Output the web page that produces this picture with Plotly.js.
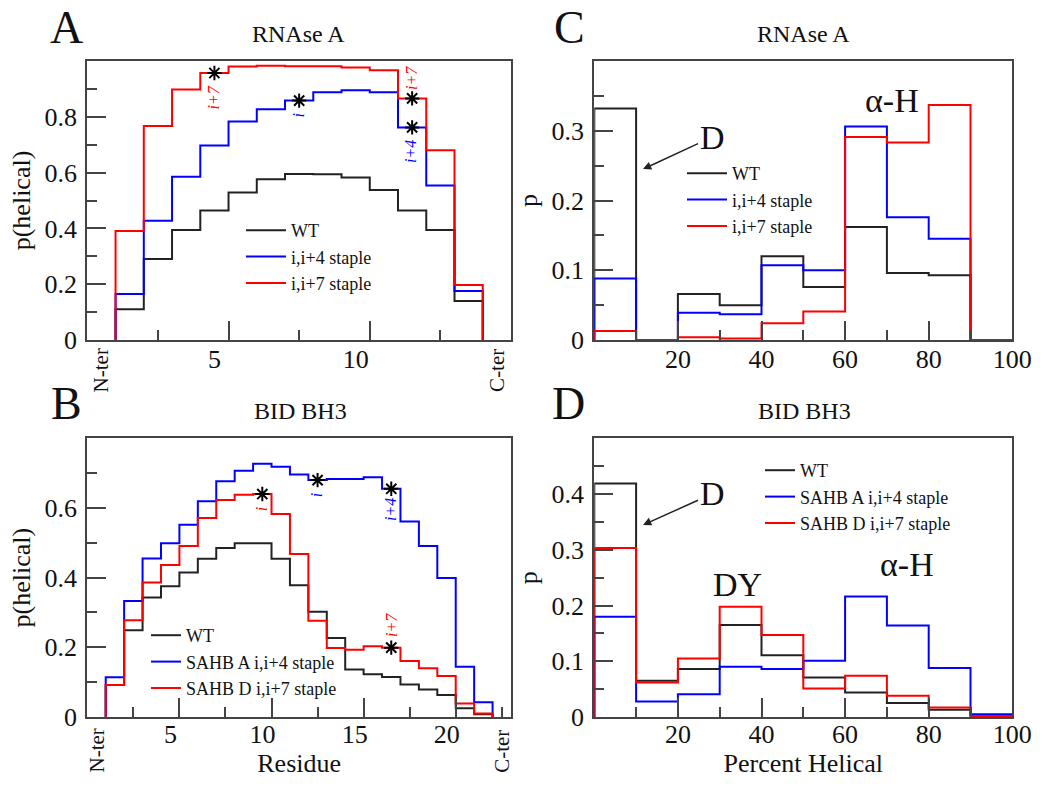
<!DOCTYPE html>
<html>
<head>
<meta charset="utf-8">
<script src="https://cdn.plot.ly/plotly-3.0.1.min.js"></script>
<style>html,body{margin:0;padding:0;background:#fff}#chart{width:1050px;height:790px}</style>
</head>
<body>
<div id="chart"></div>
<script>
// ---------- data ----------
const residueA = [2,3,4,5,6,7,8,9,10,11,12,13,14];
const wtA = [0.110,0.290,0.394,0.464,0.529,0.576,0.595,0.594,0.582,0.538,0.464,0.394,0.140];
const i4A = [0.165,0.427,0.585,0.697,0.783,0.827,0.858,0.888,0.895,0.888,0.762,0.554,0.176];
const i7A = [0.391,0.767,0.898,0.957,0.980,0.983,0.981,0.981,0.977,0.967,0.866,0.680,0.197];
const stapleA_i4 = [8,12];
const stapleA_i7 = [5,12];

const residueB = [2,3,4,5,6,7,8,9,10,11,12,13,14,15,16,17,18,19,20,21,22];
const wtB = [0.092,0.249,0.343,0.375,0.415,0.454,0.485,0.499,0.499,0.454,0.378,0.302,0.227,0.136,0.123,0.115,0.093,0.079,0.063,0.025,0.008];
const i4B = [0.114,0.333,0.455,0.499,0.552,0.619,0.677,0.707,0.727,0.718,0.696,0.680,0.683,0.683,0.688,0.655,0.561,0.491,0.399,0.144,0.042];
const i7B = [0.092,0.278,0.386,0.436,0.491,0.571,0.623,0.638,0.640,0.583,0.468,0.276,0.198,0.193,0.203,0.199,0.161,0.140,0.118,0.039,0.010];
const stapleB_i4 = [13,17];
const stapleB_i7 = [10,17];

const pctBin = [5,15,25,35,45,55,65,75,85,95];
const wtC = [0.332,0,0.066,0.050,0.120,0.076,0.162,0.096,0.093,0];
const i4C = [0.088,0,0.039,0.037,0.107,0.100,0.306,0.176,0.145,0];
const i7C = [0.013,0,0.004,0.002,0.024,0.041,0.291,0.283,0.337,0];
const wtD = [0.419,0.065,0.086,0.165,0.111,0.071,0.044,0.025,0.013,0.002];
const i4D = [0.180,0.028,0.041,0.090,0.086,0.101,0.216,0.164,0.088,0.005];
const i7D = [0.303,0.062,0.105,0.198,0.147,0.051,0.074,0.038,0.017,0.002];

const namesAC = ['WT','i,i+4 staple','i,i+7 staple'];
const namesBD = ['WT','SAHB A i,i+4 staple','SAHB D i,i+7 staple'];

// ---------- helpers ----------
const SERIF = 'Liberation Serif, Times New Roman, serif';
const COLORS = ['#222222','#0000ff','#ff0000'];
const W = 1050, H = 790;
const px = v => v / W;
const py = v => 1 - v / H;

function steps(centers, vals, w) {
  const x = [centers[0] - w/2], y = [0];
  centers.forEach((c, i) => { x.push(c - w/2); y.push(vals[i]); });
  x.push(centers[centers.length-1] + w/2); y.push(0);
  return {x, y};
}
function stepTrace(centers, vals, w, name, color, xa, ya, leg) {
  const s = steps(centers, vals, w);
  return {x: s.x, y: s.y, type: 'scatter', mode: 'lines', name,
    line: {shape: 'hv', color, width: 2}, xaxis: xa, yaxis: ya, legend: leg};
}
function lookup(centers, vals, pos) { return pos.map(p => vals[centers.indexOf(p)]); }
function starTrace(xs, ys, xa, ya) {
  return {x: xs, y: ys, type: 'scatter', mode: 'markers', showlegend: false, hoverinfo: 'skip',
    marker: {symbol: 'asterisk-open', size: 12, color: '#000', line: {color: '#000', width: 2}},
    xaxis: xa, yaxis: ya};
}

const traces = [];
[[wtA,0],[i4A,1],[i7A,2]].forEach(([v,k]) => traces.push(stepTrace(residueA, v, 1, namesAC[k], COLORS[k], 'x', 'y', 'legend')));
[[wtB,0],[i4B,1],[i7B,2]].forEach(([v,k]) => traces.push(stepTrace(residueB, v, 1, namesBD[k], COLORS[k], 'x2', 'y2', 'legend2')));
[[wtC,0],[i4C,1],[i7C,2]].forEach(([v,k]) => traces.push(stepTrace(pctBin, v, 10, namesAC[k], COLORS[k], 'x3', 'y3', 'legend3')));
[[wtD,0],[i4D,1],[i7D,2]].forEach(([v,k]) => traces.push(stepTrace(pctBin, v, 10, namesBD[k], COLORS[k], 'x4', 'y4', 'legend4')));

traces.push(starTrace(stapleA_i7.concat(stapleA_i4),
  lookup(residueA, i7A, stapleA_i7).concat(lookup(residueA, i4A, stapleA_i4)), 'x', 'y'));
traces.push(starTrace(stapleB_i7.concat(stapleB_i4),
  lookup(residueB, i7B, stapleB_i7).concat(lookup(residueB, i4B, stapleB_i4)), 'x2', 'y2'));

// ---------- axes ----------
const AX = '#444';
function minorT(tick0, dtick) {
  return {tick0, dtick, ticks: 'inside', ticklen: 10, tickwidth: 2, tickcolor: AX, showgrid: false};
}
function baseAxis(extra) {
  return Object.assign({
    showline: true, linecolor: AX, linewidth: 2, mirror: true,
    ticks: 'inside', ticklen: 19, tickwidth: 2, tickcolor: AX,
    showgrid: false, zeroline: false, fixedrange: true,
    tickfont: {family: SERIF, size: 26, color: '#111'}
  }, extra);
}
// tick marks of an axis repeated on the opposite side of the panel
function mirrorOf(ax, over, anchor, side) {
  return {overlaying: over, anchor, side, range: ax.range.slice(),
    showline: false,
    tickmode: 'array', tickvals: ax.tickvals.slice(), ticks: 'inside', ticklen: 19, tickwidth: 2, tickcolor: AX,
    showticklabels: false, showgrid: false, zeroline: false, fixedrange: true,
    minor: Object.assign({}, ax.minor)};
}
const dxL = [px(87.3), px(511)];
const dxR = [px(594.3), px(1012.3)];
const dyT = [py(340), py(61)];
const dyB = [py(717), py(438.3)];
const titleFont = {family: SERIF, size: 26, color: '#111'};

const layout = {
  width: W, height: H,
  margin: {l: 0, r: 0, t: 0, b: 0},
  paper_bgcolor: '#fff', plot_bgcolor: '#fff',
  font: {family: SERIF, color: '#111'},
  showlegend: true
};
layout.xaxis = baseAxis({domain: dxL, anchor: 'y', range: [0.5, 15.5],
  tickmode: 'array', tickvals: [0.5,5.5,10.5,15.5], ticktext: ['','5','10',''], ticklabelshift: -14,
  ticklabelstandoff: -5, minor: minorT(0.5, 2.5)});
layout.yaxis = baseAxis({domain: dyT, anchor: 'x', range: [0, 1],
  tickmode: 'array', tickvals: [0,0.2,0.4,0.6,0.8,1], ticktext: ['0','0.2','0.4','0.6','0.8',''],
  ticklabelstandoff: 3, minor: minorT(0, 0.1),
  title: {text: 'p(helical)', font: titleFont, standoff: 6}});
layout.xaxis2 = baseAxis({domain: dxL, anchor: 'y2', range: [0.5, 23.5],
  tickmode: 'array', tickvals: [0.5,5.5,10.5,15.5,20.5], ticktext: ['','5','10','15','20'], ticklabelshift: -9,
  ticklabelstandoff: -7, minor: minorT(0.5, 2.5),
  title: {text: 'Residue', font: titleFont, standoff: 2}});
layout.yaxis2 = baseAxis({domain: dyB, anchor: 'x2', range: [0, 0.8],
  tickmode: 'array', tickvals: [0,0.2,0.4,0.6,0.8], ticktext: ['0','0.2','0.4','0.6',''],
  ticklabelstandoff: 3, minor: minorT(0, 0.1),
  title: {text: 'p(helical)', font: titleFont, standoff: 6}});
layout.xaxis3 = baseAxis({domain: dxR, anchor: 'y3', range: [0, 100],
  tickmode: 'array', tickvals: [0,20,40,60,80,100], ticktext: ['','20','40','60','80','100'],
  ticklabelstandoff: -5, minor: minorT(0, 10)});
layout.yaxis3 = baseAxis({domain: dyT, anchor: 'x3', range: [0, 0.4],
  tickmode: 'array', tickvals: [0,0.1,0.2,0.3,0.4], ticktext: ['0','0.1','0.2','0.3',''],
  ticklabelstandoff: 3, minor: minorT(0, 0.05),
  title: {text: 'p', font: titleFont, standoff: 6}});
layout.xaxis4 = baseAxis({domain: dxR, anchor: 'y4', range: [0, 100],
  tickmode: 'array', tickvals: [0,20,40,60,80,100], ticktext: ['','20','40','60','80','100'],
  ticklabelstandoff: -7, minor: minorT(0, 10),
  title: {text: 'Percent Helical', font: titleFont, standoff: 2}});
layout.yaxis4 = baseAxis({domain: dyB, anchor: 'x4', range: [0, 0.5],
  tickmode: 'array', tickvals: [0,0.1,0.2,0.3,0.4,0.5], ticktext: ['0','0.1','0.2','0.3','0.4',''],
  ticklabelstandoff: 3, minor: minorT(0, 0.05),
  title: {text: 'p', font: titleFont, standoff: 6}});

// top and right frame sides with mirrored major + minor ticks
layout.xaxis5 = mirrorOf(layout.xaxis, 'x', 'y', 'top');
layout.yaxis5 = mirrorOf(layout.yaxis, 'y', 'x', 'right');
layout.xaxis6 = mirrorOf(layout.xaxis2, 'x2', 'y2', 'top');
layout.yaxis6 = mirrorOf(layout.yaxis2, 'y2', 'x2', 'right');
layout.xaxis7 = mirrorOf(layout.xaxis3, 'x3', 'y3', 'top');
layout.yaxis7 = mirrorOf(layout.yaxis3, 'y3', 'x3', 'right');
layout.xaxis8 = mirrorOf(layout.xaxis4, 'x4', 'y4', 'top');
layout.yaxis8 = mirrorOf(layout.yaxis4, 'y4', 'x4', 'right');

function legendAt(xp, yp, iw) {
  return {x: px(xp), y: py(yp), xanchor: 'left', yanchor: 'top', bgcolor: 'rgba(0,0,0,0)',
    borderwidth: 0, font: {family: SERIF, size: 18, color: '#111'}, tracegroupgap: 0, itemwidth: iw};
}
layout.legend = legendAt(241, 212, 40);
layout.legend2 = legendAt(146, 617, 30);
layout.legend3 = legendAt(682, 155, 40);
layout.legend4 = legendAt(760, 452, 30);

// ---------- text annotations ----------
const ann = [];
function paperText(text, x, y, size) {
  ann.push({text, x: px(x), y: py(y), xref: 'paper', yref: 'paper',
    showarrow: false, xanchor: 'center', yanchor: 'middle',
    font: {family: SERIF, size, color: '#111'}});
}
paperText('A', 66, 28, 46);
paperText('C', 569, 28, 46);
paperText('B', 66, 404, 46);
paperText('D', 568, 404, 46);
paperText('RNAse A', 298, 34, 24);
paperText('RNAse A', 803, 34, 24);
paperText('BID BH3', 300, 411, 24);
paperText('BID BH3', 804, 411, 24);

// rotated terminal labels on residue axes
function termLabel(text, xv, xa, ypx) {
  ann.push({text, x: xv, y: py(ypx), xref: xa, yref: 'paper', showarrow: false, textangle: -90,
    xanchor: 'center', yanchor: 'middle', font: {family: SERIF, size: 21, color: '#111'}});
}
termLabel('N-ter', 1, 'x', 370);
termLabel('C-ter', 15, 'x', 370);
termLabel('N-ter', 1, 'x2', 751);
termLabel('C-ter', 23, 'x2', 751);

// staple position labels
function stapleLabel(text, xv, yv, xa, ya, color) {
  ann.push({text: '<i>' + text + '</i>', x: xv, y: yv, xref: xa, yref: ya, showarrow: false, textangle: -90,
    xanchor: 'center', yanchor: 'middle', font: {family: SERIF, size: 16, color}});
}
stapleLabel('i+7', 5.0, 0.871, 'x', 'y', '#ff0000');
stapleLabel('i', 7.97, 0.806, 'x', 'y', '#0000ff');
stapleLabel('i+7', 11.96, 0.939, 'x', 'y', '#ff0000');
stapleLabel('i+4', 11.96, 0.674, 'x', 'y', '#0000ff');
stapleLabel('i', 9.94, 0.597, 'x2', 'y2', '#ff0000');
stapleLabel('i', 12.92, 0.637, 'x2', 'y2', '#0000ff');
stapleLabel('i+4', 16.93, 0.597, 'x2', 'y2', '#0000ff');
stapleLabel('i+7', 16.98, 0.264, 'x2', 'y2', '#ff0000');

// state labels in C and D
function dataText(text, xv, yv, xa, ya, size) {
  ann.push({text, x: xv, y: yv, xref: xa, yref: ya, showarrow: false,
    xanchor: 'center', yanchor: 'middle', font: {family: SERIF, size, color: '#111'}});
}
dataText('α-H', 71.2, 0.344, 'x3', 'y3', 34);
dataText('α-H', 74.9, 0.273, 'x4', 'y4', 34);
dataText('DY', 34.3, 0.237, 'x4', 'y4', 34);
function arrowText(text, xv, yv, xa, ya, axp, ayp) {
  ann.push({text, x: xv, y: yv, xref: xa, yref: ya, showarrow: true, ax: axp, ay: ayp,
    arrowhead: 2, arrowsize: 1.1, arrowwidth: 1.5, arrowcolor: '#222',
    font: {family: SERIF, size: 34, color: '#111'}});
}
arrowText('D', 11.65, 0.245, 'x3', 'y3', 69, -32);
arrowText('D', 11.65, 0.3445, 'x4', 'y4', 69, -31);

layout.annotations = ann;

Plotly.newPlot('chart', traces, layout, {displayModeBar: false, staticPlot: true});
</script>
</body>
</html>
